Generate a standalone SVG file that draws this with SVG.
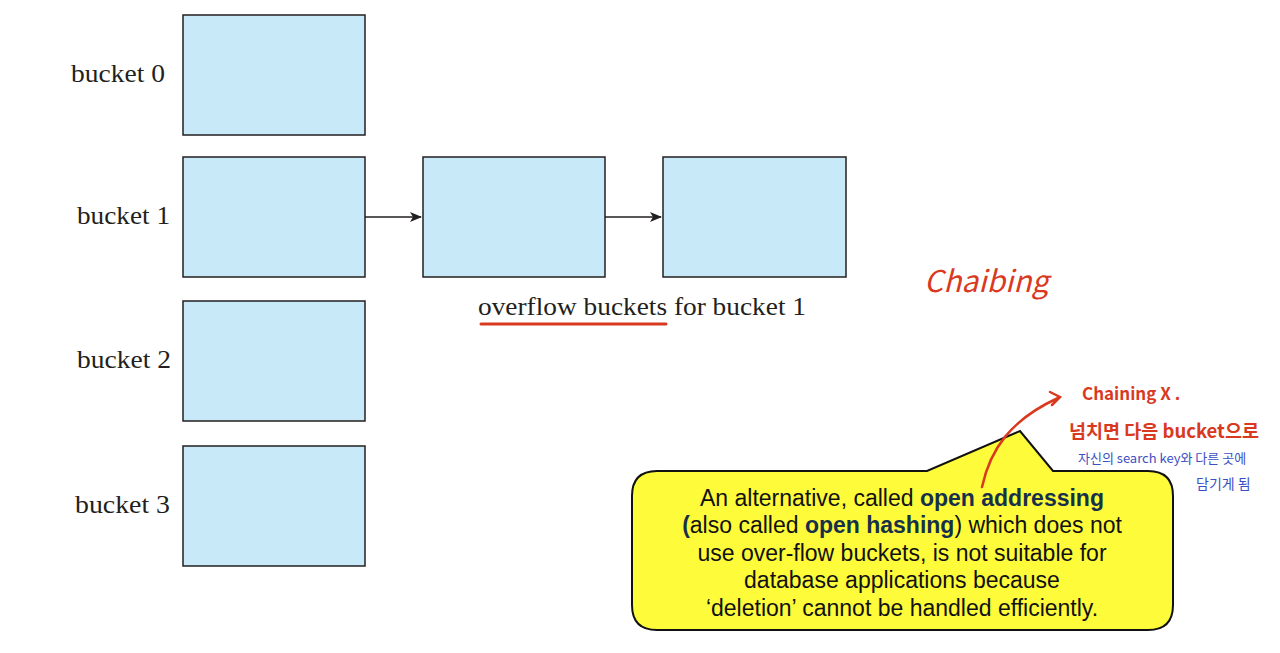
<svg xmlns="http://www.w3.org/2000/svg" width="1280" height="653" viewBox="0 0 1280 653">
<style>
.bk{fill:#c8e9f8;stroke:#231f20;stroke-width:1.5}
.lbl{font-family:"Liberation Serif",serif;font-size:25px;fill:#231f20}
.cl{font-family:"Liberation Sans",Arial,sans-serif;font-size:23px;fill:#111;text-anchor:middle}
.b{font-weight:bold;fill:#17304a}
.hw{font-family:"Noto Sans CJK KR","Noto Sans",sans-serif;fill:#d93a1f}
.hb{font-family:"Noto Sans CJK KR","Noto Sans",sans-serif;fill:#3b4fc4}
</style>
<defs>
<marker id="ar" markerWidth="12" markerHeight="10" refX="11" refY="5" orient="auto" markerUnits="userSpaceOnUse">
<path d="M0,0 L12,5 L0,10 L3,5 Z" fill="#231f20"/>
</marker>
</defs>
<rect width="1280" height="653" fill="#fff"/>
<g id="bucket0"><rect class="bk" x="183" y="15" width="182" height="120"/><text class="lbl" x="71" y="82" textLength="94" lengthAdjust="spacingAndGlyphs">bucket 0</text></g>
<g id="bucket1"><rect class="bk" x="183" y="157" width="182" height="120"/><text class="lbl" x="77" y="224" textLength="93" lengthAdjust="spacingAndGlyphs">bucket 1</text></g>
<g id="bucket2"><rect class="bk" x="183" y="301" width="182" height="120"/><text class="lbl" x="77" y="368" textLength="94" lengthAdjust="spacingAndGlyphs">bucket 2</text></g>
<g id="bucket3"><rect class="bk" x="183" y="446" width="182" height="120"/><text class="lbl" x="75" y="513" textLength="95" lengthAdjust="spacingAndGlyphs">bucket 3</text></g>
<g id="overflow1"><rect class="bk" x="423" y="157" width="182" height="120"/></g>
<g id="overflow2"><rect class="bk" x="663" y="157" width="183" height="120"/></g>
<g id="overflow-label"><text class="lbl" x="478" y="315" textLength="328" lengthAdjust="spacingAndGlyphs">overflow buckets for bucket 1</text>
<path d="M481,324 L666,324" stroke="#d93a1f" stroke-width="3" fill="none" stroke-linecap="round"/></g>
<g id="connectors" stroke="#231f20" stroke-width="1.3" fill="none">
<path d="M365,217 L421,217" marker-end="url(#ar)"/>
<path d="M605,217 L661,217" marker-end="url(#ar)"/>
</g>
<g id="callout">
<path d="M657,471 L927,471 L1020,431 L1053,471 L1148,471 Q1173,471 1173,496 L1173,605 Q1173,630 1148,630 L657,630 Q632,630 632,605 L632,496 Q632,471 657,471 Z" fill="#fdfb3a" stroke="#111" stroke-width="2"/>
<text class="cl" x="902" y="506">An alternative, called <tspan class="b">open addressing</tspan></text>
<text class="cl" x="902" y="533"><tspan class="b">(</tspan>also called <tspan class="b">open hashing</tspan>) which does not</text>
<text class="cl" x="902" y="561">use over-flow buckets, is not suitable for</text>
<text class="cl" x="902" y="588">database applications because</text>
<text class="cl" x="902" y="616">‘deletion’ cannot be handled efficiently.</text>
</g>
<g id="annotations">
<text class="hw" x="924" y="292" font-size="30" font-style="italic">Chaibing</text>
<path d="M982,487 C990,450 1010,420 1058,398 M1050,392 L1060,397 L1052,405" stroke="#d93a1f" stroke-width="2.5" fill="none" stroke-linecap="round"/>
<text class="hw" x="1082" y="400" font-size="17" font-weight="bold">Chaining X .</text>
<text class="hw" x="1069" y="438" font-size="18.5" font-weight="bold">넘치면 다음 bucket으로</text>
<text class="hb" x="1078" y="463" font-size="13">자신의 search key와 다른 곳에</text>
<text class="hb" x="1196" y="489" font-size="14">담기게 됨</text>
</g>
</svg>
